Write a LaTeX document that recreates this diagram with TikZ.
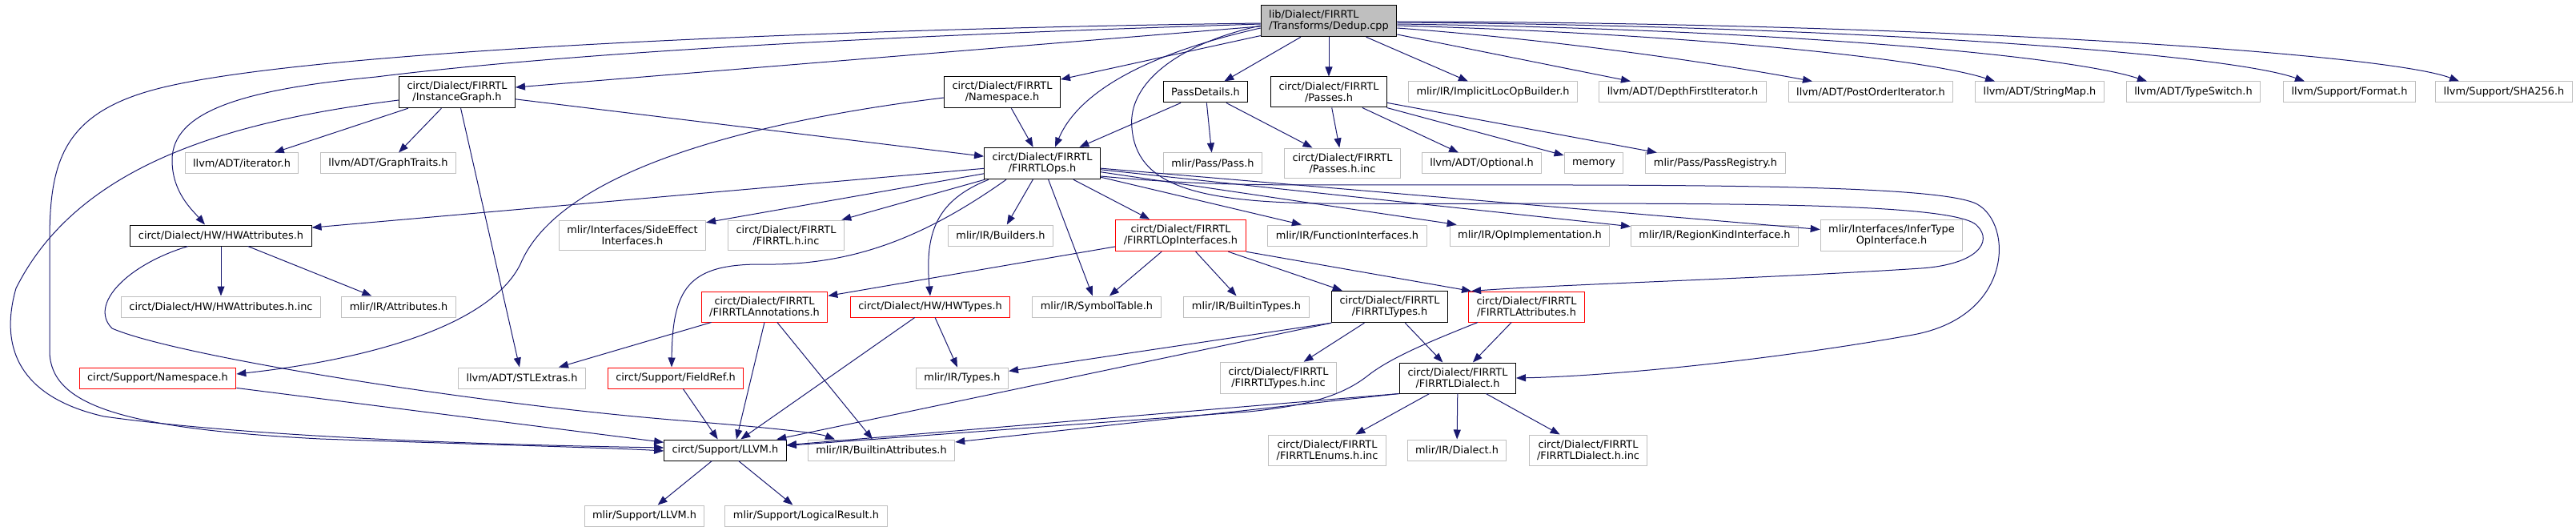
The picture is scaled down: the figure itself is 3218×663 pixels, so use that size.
\documentclass[tikz,border=0pt]{standalone}
\usepackage{fontspec}
\setmainfont{DejaVu Sans}
\usetikzlibrary{arrows.meta}
\definecolor{depblue}{HTML}{191970}
\definecolor{extgray}{HTML}{BFBFBF}
\definecolor{rootgray}{HTML}{BFBFBF}
\begin{document}
\begin{tikzpicture}[x=1pt, y=-1pt,
  every node/.style={font=\fontsize{12.9}{14}\selectfont, align=center, inner xsep=10pt, inner ysep=6.5pt, minimum height=26pt, line width=1pt},
  docbox/.style={draw=black, fill=white},
  extbox/.style={draw=extgray, fill=white},
  cutbox/.style={draw=red, fill=white},
  rootbox/.style={draw=black, fill=rootgray},
  dep/.style={draw=depblue, line width=1pt, -{Triangle[length=12pt,width=9pt]}}]
\useasboundingbox (0,0) rectangle (3218,663);
% row 0 and 1
\node[rootbox, align=left] (dedup) at (1660,26) {lib/Dialect/FIRRTL\\/Transforms/Dedup.cpp};
\node[docbox] (instgraph) at (571,115) {circt/Dialect/FIRRTL\\/InstanceGraph.h};
\node[docbox] (firnamespace) at (1252,115) {circt/Dialect/FIRRTL\\/Namespace.h};
\node[docbox] (passdetails) at (1506,115) {PassDetails.h};
\node[docbox] (passes) at (1660,115) {circt/Dialect/FIRRTL\\/Passes.h};
\node[extbox] (implicitloc) at (1865,115) {mlir/IR/ImplicitLocOpBuilder.h};
\node[extbox] (depthfirst) at (2102,115) {llvm/ADT/DepthFirstIterator.h};
\node[extbox] (postorder) at (2337,115) {llvm/ADT/PostOrderIterator.h};
\node[extbox] (stringmap) at (2548,115) {llvm/ADT/StringMap.h};
\node[extbox] (typeswitch) at (2740,115) {llvm/ADT/TypeSwitch.h};
\node[extbox] (format) at (2935,115) {llvm/Support/Format.h};
\node[extbox] (sha) at (3128,115) {llvm/Support/SHA256.h};
% row 2
\node[extbox] (iterator) at (302,204) {llvm/ADT/iterator.h};
\node[extbox] (graphtraits) at (485,204) {llvm/ADT/GraphTraits.h};
\node[docbox] (firops) at (1302,204) {circt/Dialect/FIRRTL\\/FIRRTLOps.h};
\node[extbox] (pass) at (1515,204) {mlir/Pass/Pass.h};
\node[extbox] (passesinc) at (1677,204) {circt/Dialect/FIRRTL\\/Passes.h.inc};
\node[extbox] (optional) at (1851,204) {llvm/ADT/Optional.h};
\node[extbox] (memory) at (1991,204) {memory};
\node[extbox] (passregistry) at (2143,204) {mlir/Pass/PassRegistry.h};
% row 3
\node[docbox] (hwattrs) at (276,294) {circt/Dialect/HW/HWAttributes.h};
\node[extbox] (sideeffect) at (790,294) {mlir/Interfaces/SideEffect\\Interfaces.h};
\node[extbox] (firrtlinc) at (982,294) {circt/Dialect/FIRRTL\\/FIRRTL.h.inc};
\node[extbox] (builders) at (1250,294) {mlir/IR/Builders.h};
\node[cutbox] (opinterfaces) at (1475,294) {circt/Dialect/FIRRTL\\/FIRRTLOpInterfaces.h};
\node[extbox] (funcinterfaces) at (1683,294) {mlir/IR/FunctionInterfaces.h};
\node[extbox] (opimpl) at (1911,294) {mlir/IR/OpImplementation.h};
\node[extbox] (regionkind) at (2142,294) {mlir/IR/RegionKindInterface.h};
\node[extbox] (infertype) at (2363,294) {mlir/Interfaces/InferType\\OpInterface.h};
% row 4
\node[extbox] (hwattrsinc) at (276,383) {circt/Dialect/HW/HWAttributes.h.inc};
\node[extbox] (attributes) at (498,383) {mlir/IR/Attributes.h};
\node[cutbox] (annotations) at (955,383) {circt/Dialect/FIRRTL\\/FIRRTLAnnotations.h};
\node[cutbox] (hwtypes) at (1162,383) {circt/Dialect/HW/HWTypes.h};
\node[extbox] (symboltable) at (1370,383) {mlir/IR/SymbolTable.h};
\node[extbox] (builtintypes) at (1557,383) {mlir/IR/BuiltinTypes.h};
\node[docbox] (firtypes) at (1736,383) {circt/Dialect/FIRRTL\\/FIRRTLTypes.h};
\node[cutbox] (firattrs) at (1907,383) {circt/Dialect/FIRRTL\\/FIRRTLAttributes.h};
% row 5
\node[cutbox] (supnamespace) at (197,472) {circt/Support/Namespace.h};
\node[extbox] (stlextras) at (652,472) {llvm/ADT/STLExtras.h};
\node[cutbox] (fieldref) at (844,472) {circt/Support/FieldRef.h};
\node[extbox] (types) at (1202,472) {mlir/IR/Types.h};
\node[extbox] (firtypesinc) at (1597,472) {circt/Dialect/FIRRTL\\/FIRRTLTypes.h.inc};
\node[docbox] (firdialect) at (1821,472) {circt/Dialect/FIRRTL\\/FIRRTLDialect.h};
% row 6 and 7
\node[docbox] (llvmh) at (906,562) {circt/Support/LLVM.h};
\node[extbox] (builtinattrs) at (1101,562) {mlir/IR/BuiltinAttributes.h};
\node[extbox] (enumsinc) at (1658,562) {circt/Dialect/FIRRTL\\/FIRRTLEnums.h.inc};
\node[extbox] (dialect) at (1820,562) {mlir/IR/Dialect.h};
\node[extbox] (dialectinc) at (1984,562) {circt/Dialect/FIRRTL\\/FIRRTLDialect.h.inc};
\node[extbox] (mlirllvm) at (805,644) {mlir/Support/LLVM.h};
\node[extbox] (logicalresult) at (1007,644) {mlir/Support/LogicalResult.h};
% edges from the root
\draw[dep] (dedup) -- (instgraph);
\draw[dep] (dedup) -- (firnamespace);
\draw[dep] (dedup) -- (passdetails);
\draw[dep] (dedup) -- (passes);
\draw[dep] (dedup) -- (implicitloc);
\draw[dep] ([yshift=-17pt]dedup.east) -- ([xshift=-65pt]depthfirst.north);
\draw[dep] ([yshift=-9pt]dedup.east) .. controls (1950,50) and (2150,80) .. ([xshift=-73pt]postorder.north);
\draw[dep] ([yshift=-6pt]dedup.east) .. controls (2100,42) and (2400,72) .. ([xshift=-56pt]stringmap.north);
\draw[dep] ([yshift=-4pt]dedup.east) .. controls (2200,36) and (2580,68) .. ([xshift=-58pt]typeswitch.north);
\draw[dep] ([yshift=-2pt]dedup.east) .. controls (2300,32) and (2780,66) .. ([xshift=-56pt]format.north);
\draw[dep] ([yshift=-1pt]dedup.east) .. controls (2400,28) and (2980,66) .. ([xshift=-56pt]sha.north);
\draw[dep] ([yshift=-9pt]dedup.west) .. controls (1420,70) and (1345,120) .. ([xshift=16pt]firops.north);
\draw[dep] ([yshift=-4pt]dedup.west) .. controls (1100,45) and (720,65) .. (470,96) .. controls (300,112) and (215,140) .. (215,200) .. controls (215,240) and (240,262) .. ([xshift=-20pt]hwattrs.north);
\draw[dep] ([yshift=-3pt]dedup.west) .. controls (1100,35) and (400,60) .. (200,110) .. controls (80,140) and (62,200) .. (62,300) -- (62,440) .. controls (64,505) and (150,535) .. (400,548) .. controls (600,555) and (760,559) .. ([yshift=-1pt]llvmh.west);
\draw[dep] ([yshift=-6pt]dedup.west) .. controls (1470,55) and (1408,105) .. (1414,160) .. controls (1420,230) and (1490,252) .. (1650,254) .. controls (2000,256) and (2440,246) .. (2470,282) .. controls (2490,302) and (2470,330) .. (2400,335) .. controls (2200,348) and (1950,355) .. ([xshift=4pt]firattrs.north west);
% InstanceGraph.h and Namespace.h
\draw[dep] (instgraph) -- (iterator);
\draw[dep] (instgraph) -- (graphtraits);
\draw[dep] (instgraph) -- (stlextras);
\draw[dep] (instgraph) -- (firops);
\draw[dep] ([yshift=-10pt]instgraph.west) .. controls (300,150) and (100,200) .. (20,360) .. controls (0,430) and (20,495) .. (130,520) .. controls (330,548) and (650,556) .. ([yshift=3pt]llvmh.west);
\draw[dep] (firnamespace) -- (firops);
\draw[dep] ([yshift=-7pt]firnamespace.west) .. controls (950,150) and (700,210) .. (650,330) .. controls (610,410) and (450,450) .. ([yshift=5pt]supnamespace.east);
% PassDetails.h and Passes.h
\draw[dep] (passdetails) -- (firops);
\draw[dep] (passdetails) -- (pass);
\draw[dep] (passdetails) -- (passesinc);
\draw[dep] (passes) -- (passesinc);
\draw[dep] (passes) -- (optional);
\draw[dep] (passes) -- (memory);
\draw[dep] (passes) -- (passregistry);
% FIRRTLOps.h
\draw[dep] (firops) -- (hwattrs);
\draw[dep] (firops) -- (sideeffect);
\draw[dep] (firops) -- (firrtlinc);
\draw[dep] ([xshift=-45pt]firops.south) .. controls (1150,300) and (1060,332) .. (950,330) .. controls (860,330) and (840,360) .. ([xshift=-5pt]fieldref.north);
\draw[dep] ([xshift=6pt]firops.south west) .. controls (1170,250) and (1155,290) .. (hwtypes.north);
\draw[dep] (firops) -- (builders);
\draw[dep] (firops) -- (symboltable);
\draw[dep] (firops) -- (opinterfaces);
\draw[dep] (firops) -- (funcinterfaces);
\draw[dep] (firops) -- (opimpl);
\draw[dep] (firops) -- (regionkind);
\draw[dep] (firops) -- (infertype);
\draw[dep] ([yshift=-16pt]firops.east) .. controls (1480,230) and (1560,231) .. (1650,231) .. controls (2050,231) and (2420,228) .. (2470,255) .. controls (2515,280) and (2515,395) .. (2390,418) .. controls (2200,452) and (2000,470) .. (firdialect.east);
% HWAttributes.h
\draw[dep] (hwattrs) -- (hwattrsinc);
\draw[dep] (hwattrs) -- (attributes);
\draw[dep] ([xshift=-41pt]hwattrs.south) .. controls (160,330) and (110,380) .. (140,410) .. controls (220,445) and (600,505) .. (850,525) .. controls (950,533) and (1020,540) .. ([xshift=-58pt]builtinattrs.north);
% FIRRTLOpInterfaces.h
\draw[dep] (opinterfaces) -- (annotations);
\draw[dep] (opinterfaces) -- (symboltable);
\draw[dep] (opinterfaces) -- (builtintypes);
\draw[dep] (opinterfaces) -- (firtypes);
\draw[dep] (opinterfaces.south east) -- ([xshift=4pt]firattrs.north west);
% lower rows
\draw[dep] (annotations) -- (stlextras);
\draw[dep] (annotations.south) -- ([xshift=14pt]llvmh.north);
\draw[dep] (annotations) -- (builtinattrs);
\draw[dep] (hwtypes) -- (llvmh);
\draw[dep] (hwtypes) -- (types);
\draw[dep] (fieldref) -- (llvmh);
\draw[dep] (supnamespace) -- (llvmh);
\draw[dep] (firtypes) -- (firtypesinc);
\draw[dep] (firtypes) -- (firdialect);
\draw[dep] (firtypes.south west) -- (types);
\draw[dep] (firtypes.south west) -- (llvmh);
\draw[dep] ([xshift=-61pt]firattrs.south) .. controls (1790,425) and (1740,445) .. (1710,468) .. controls (1680,492) and (1640,506) .. (1560,514) -- (llvmh);
\draw[dep] (firattrs) -- (firdialect);
\draw[dep] (firdialect.south west) -- (llvmh);
\draw[dep] (firdialect.south west) -- (builtinattrs);
\draw[dep] (firdialect) -- (enumsinc);
\draw[dep] (firdialect) -- (dialect);
\draw[dep] (firdialect) -- (dialectinc);
\draw[dep] (llvmh) -- (mlirllvm);
\draw[dep] (llvmh) -- (logicalresult);
\end{tikzpicture}
\end{document}
